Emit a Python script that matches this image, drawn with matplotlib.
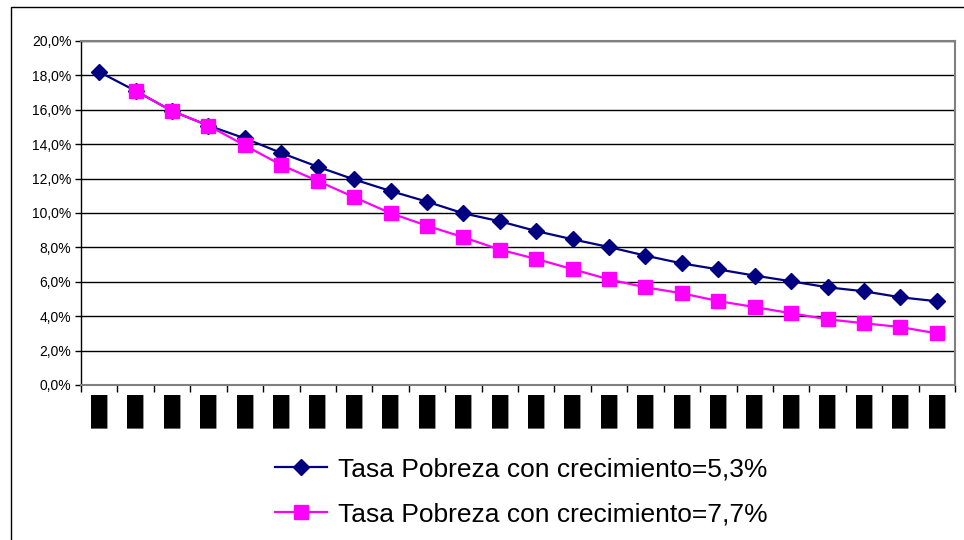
import numpy as np
import matplotlib
matplotlib.use("Agg")
import matplotlib.pyplot as plt
from matplotlib.patches import Rectangle
from matplotlib.ticker import FuncFormatter, MultipleLocator

plt.rcParams['font.family'] = ['Liberation Sans', 'DejaVu Sans']

# Data (percent)
n_points = 24
categories = ["▮"] * n_points
serie_53 = [18.2, 17.1, 15.93, 15.08, 14.34, 13.49, 12.69, 11.95, 11.28, 10.66,
            9.98, 9.52, 8.95, 8.47, 8.02, 7.52, 7.07, 6.72, 6.36, 6.03,
            5.68, 5.45, 5.10, 4.87]
serie_77 = [np.nan, 17.1, 15.93, 15.08, 13.93, 12.79, 11.86, 10.92, 9.99, 9.26,
            8.59, 7.87, 7.33, 6.73, 6.14, 5.68, 5.33, 4.88, 4.53, 4.17,
            3.82, 3.59, 3.37, 3.0]
label_53 = "Tasa Pobreza con crecimiento=5,3%"
label_77 = "Tasa Pobreza con crecimiento=7,7%"

W, H = 964, 540
fig = plt.figure(figsize=(W / 100, H / 100), dpi=100)
fig.patch.set_facecolor('white')

# outer chart frame
fig.add_artist(Rectangle((11 / W, 0 - 0.01), 1.0, 1 - 7 / H + 0.01,
                         transform=fig.transFigure, fill=False,
                         edgecolor='black', linewidth=1.0, clip_on=False))

ax = fig.add_axes([81 / W, 1 - 385 / H, (955 - 81) / W, (385 - 41) / H])
x = np.arange(n_points)

ax.plot(x, serie_53, color='#000080', marker='D', markersize=8,
        linewidth=1.6, label=label_53, zorder=3)
ax.plot(x, serie_77, color='#FF00FF', marker='s', markersize=10,
        linewidth=1.6, label=label_77, zorder=4)

ax.set_xlim(-0.5, n_points - 0.5)
ax.set_ylim(0, 20)
ax.yaxis.set_major_locator(MultipleLocator(2))
ax.yaxis.set_major_formatter(FuncFormatter(lambda v, p: f"{v:.1f}%".replace('.', ',')))
ax.grid(axis='y', color='black', linewidth=1.0)
ax.set_axisbelow(True)

ax.set_xticks(x)
ax.set_xticklabels(categories, fontsize=32, family=['DejaVu Sans'])
ax.set_xticks(np.arange(n_points + 1) - 0.5, minor=True)
ax.tick_params(axis='x', which='major', length=0, pad=2.5)
ax.tick_params(axis='x', which='minor', length=5, width=1, color='black', direction='out')
ax.tick_params(axis='y', length=4, width=1, direction='out', labelsize=10, pad=3)

for s in ['top', 'right']:
    ax.spines[s].set_color('#808080')
    ax.spines[s].set_linewidth(1.5)
ax.spines['bottom'].set_color('#808080')
ax.spines['bottom'].set_linewidth(1.5)
ax.spines['left'].set_color('black')
ax.spines['left'].set_linewidth(1.0)

leg = fig.legend(loc='center', bbox_to_anchor=(521 / W, 1 - 492 / H),
                 fontsize=19, frameon=False, handlelength=2.0,
                 handletextpad=0.4, labelspacing=0.78)

fig.savefig('out.png', dpi=100, facecolor='white')
